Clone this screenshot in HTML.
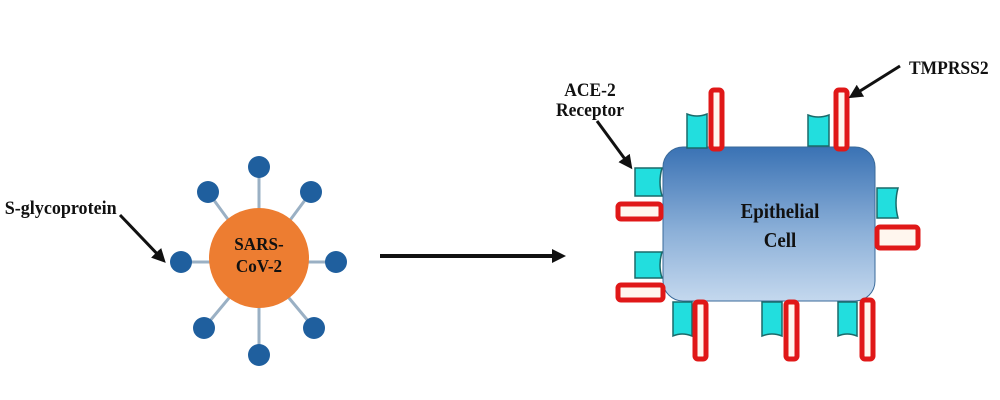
<!DOCTYPE html>
<html><head><meta charset="utf-8"><style>
html,body{margin:0;padding:0;background:#fff;width:1000px;height:400px;overflow:hidden}
svg text{font-family:"Liberation Serif",serif;font-weight:bold;fill:#111}
</style></head><body>
<svg width="1000" height="400" viewBox="0 0 1000 400" xmlns="http://www.w3.org/2000/svg">
<defs>
<linearGradient id="cg" x1="0" y1="0" x2="0" y2="1">
<stop offset="0" stop-color="#3a72b4"/><stop offset="0.55" stop-color="#8cb0d8"/><stop offset="1" stop-color="#c4d8ee"/>
</linearGradient>
<marker id="ah2" markerWidth="14" markerHeight="14" refX="10" refY="7" orient="auto" markerUnits="userSpaceOnUse"><path d="M0,0 L14,7 L0,14 z" fill="#111"/></marker>
</defs>

<!-- Virus -->
<g stroke="#9ab0c4" stroke-width="3">
<line x1="259" y1="262" x2="259" y2="167"/><line x1="259" y1="262" x2="259" y2="355"/>
<line x1="259" y1="262" x2="181" y2="262"/><line x1="259" y1="262" x2="336" y2="262"/>
<line x1="259" y1="262" x2="208" y2="192"/><line x1="259" y1="262" x2="311" y2="192"/>
<line x1="259" y1="262" x2="204" y2="328"/><line x1="259" y1="262" x2="314" y2="328"/>
</g>
<circle cx="259" cy="258" r="50" fill="#ed7d31"/>
<g fill="#1f5f9e">
<circle cx="259" cy="167" r="11"/><circle cx="259" cy="355" r="11"/>
<circle cx="181" cy="262" r="11"/><circle cx="336" cy="262" r="11"/>
<circle cx="208" cy="192" r="11"/><circle cx="311" cy="192" r="11"/>
<circle cx="204" cy="328" r="11"/><circle cx="314" cy="328" r="11"/>
</g>
<text x="259" y="250" font-size="18" text-anchor="middle" transform="translate(259 0) scale(0.95 1) translate(-259 0)">SARS-</text>
<text x="259" y="272" font-size="18" text-anchor="middle" transform="translate(259 0) scale(0.95 1) translate(-259 0)">CoV-2</text>

<text x="5" y="214" font-size="19" transform="scale(0.95 1)">S-glycoprotein</text>
<line x1="120" y1="215" x2="163" y2="260" stroke="#111" stroke-width="3" marker-end="url(#ah2)"/>

<!-- main arrow -->
<line x1="380" y1="256" x2="562" y2="256" stroke="#111" stroke-width="4" marker-end="url(#ah2)"/>

<!-- Cell -->
<rect x="663" y="147" width="212" height="154" rx="20" fill="url(#cg)" stroke="#3a6a9a" stroke-width="1"/>
<text x="780" y="218" font-size="21" text-anchor="middle" fill="#1a2a44" transform="translate(780 0) scale(0.9 1) translate(-780 0)">Epithelial</text>
<text x="780" y="247" font-size="21" text-anchor="middle" fill="#1a2a44" transform="translate(780 0) scale(0.9 1) translate(-780 0)">Cell</text>

<!-- cyan receptors -->
<g fill="#22dede" stroke="#1a6a6a" stroke-width="1.5">
<path d="M687,114 Q697,118 707,114 L707,148 L687,148 Z"/>
<path d="M808,115 Q818,119 829,115 L829,146 L808,146 Z"/>
<path d="M635,168 L662,168 Q658,182 662,196 L635,196 Z"/>
<path d="M635,252 L662,252 Q658,265 662,278 L635,278 Z"/>
<path d="M877,188 L898,188 Q894,203 898,218 L877,218 Z"/>
<path d="M673,302 L692,302 L692,336 Q682,332 673,336 Z"/>
<path d="M762,302 L782,302 L782,336 Q772,332 762,336 Z"/>
<path d="M838,302 L857,302 L857,336 Q847,332 838,336 Z"/>
</g>
<!-- red receptors -->
<g fill="#fff6ee" stroke="#e01818" stroke-width="5">
<rect x="711" y="90" width="11" height="59" rx="3"/>
<rect x="836" y="90" width="11" height="59" rx="3"/>
<rect x="618" y="204" width="43" height="15" rx="3"/>
<rect x="618" y="285" width="45" height="15" rx="3"/>
<rect x="877" y="227" width="41" height="21" rx="3"/>
<rect x="695" y="302" width="11" height="57" rx="3"/>
<rect x="786" y="302" width="11" height="57" rx="3"/>
<rect x="862" y="300" width="11" height="59" rx="3"/>
</g>

<text x="590" y="96" font-size="19" text-anchor="middle" transform="translate(590 0) scale(0.92 1) translate(-590 0)">ACE-2</text>
<text x="590" y="116" font-size="19" text-anchor="middle" transform="translate(590 0) scale(0.92 1) translate(-590 0)">Receptor</text>
<line x1="597" y1="121" x2="630" y2="166" stroke="#111" stroke-width="3" marker-end="url(#ah2)"/>

<text x="909" y="74" font-size="19" transform="translate(909 0) scale(0.92 1) translate(-909 0)">TMPRSS2</text>
<line x1="900" y1="66" x2="852" y2="96" stroke="#111" stroke-width="3" marker-end="url(#ah2)"/>
</svg>
</body></html>
